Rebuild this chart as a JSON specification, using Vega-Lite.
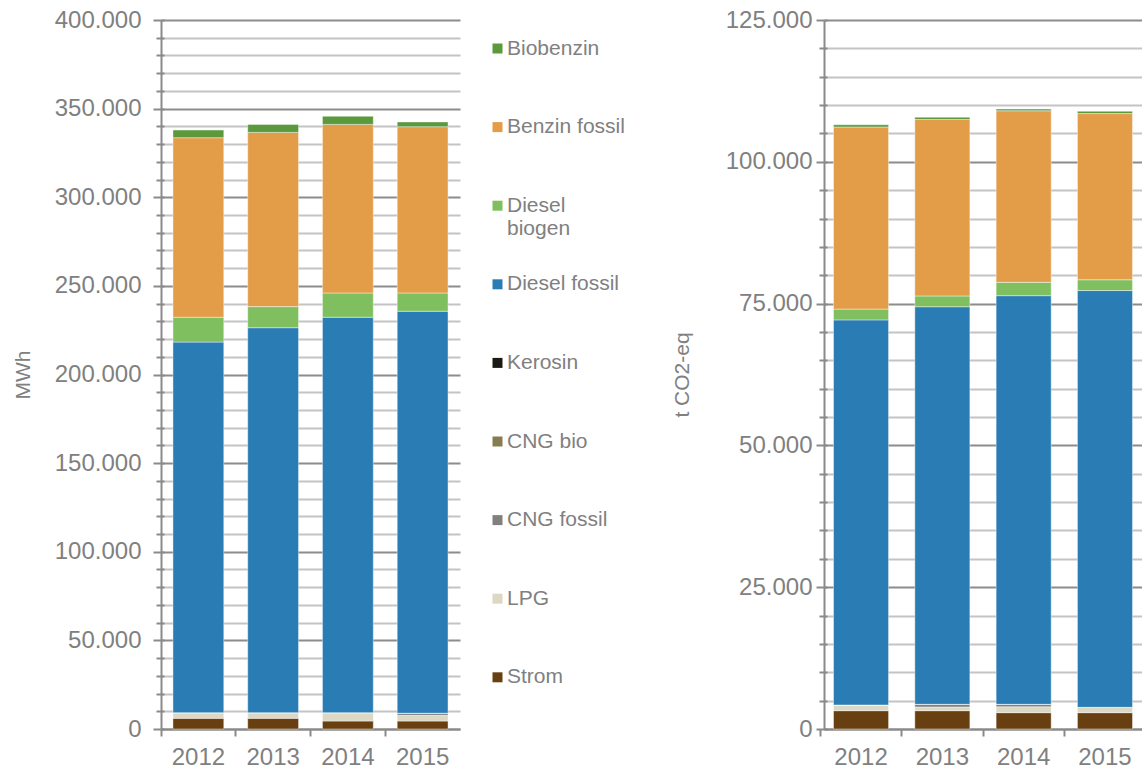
{
  "$schema": "https://vega.github.io/schema/vega-lite/v6.json",
  "padding": {"left": 12, "top": 8, "right": 0, "bottom": 0},
  "background": "#ffffff",
  "datasets": {
    "mwh": [
      {"year": "2012", "fuel": "Strom", "value": 6000},
      {"year": "2012", "fuel": "LPG", "value": 3200},
      {"year": "2012", "fuel": "CNG fossil", "value": 0},
      {"year": "2012", "fuel": "CNG bio", "value": 0},
      {"year": "2012", "fuel": "Kerosin", "value": 0},
      {"year": "2012", "fuel": "Diesel fossil", "value": 209100},
      {"year": "2012", "fuel": "Diesel biogen", "value": 14000},
      {"year": "2012", "fuel": "Benzin fossil", "value": 101300},
      {"year": "2012", "fuel": "Biobenzin", "value": 4300},
      {"year": "2013", "fuel": "Strom", "value": 6000},
      {"year": "2013", "fuel": "LPG", "value": 3200},
      {"year": "2013", "fuel": "CNG fossil", "value": 0},
      {"year": "2013", "fuel": "CNG bio", "value": 0},
      {"year": "2013", "fuel": "Kerosin", "value": 0},
      {"year": "2013", "fuel": "Diesel fossil", "value": 217200},
      {"year": "2013", "fuel": "Diesel biogen", "value": 11900},
      {"year": "2013", "fuel": "Benzin fossil", "value": 98300},
      {"year": "2013", "fuel": "Biobenzin", "value": 4500},
      {"year": "2014", "fuel": "Strom", "value": 4500},
      {"year": "2014", "fuel": "LPG", "value": 4700},
      {"year": "2014", "fuel": "CNG fossil", "value": 0},
      {"year": "2014", "fuel": "CNG bio", "value": 0},
      {"year": "2014", "fuel": "Kerosin", "value": 0},
      {"year": "2014", "fuel": "Diesel fossil", "value": 223100},
      {"year": "2014", "fuel": "Diesel biogen", "value": 13700},
      {"year": "2014", "fuel": "Benzin fossil", "value": 95100},
      {"year": "2014", "fuel": "Biobenzin", "value": 4600},
      {"year": "2015", "fuel": "Strom", "value": 4500},
      {"year": "2015", "fuel": "LPG", "value": 3200},
      {"year": "2015", "fuel": "CNG fossil", "value": 1200},
      {"year": "2015", "fuel": "CNG bio", "value": 0},
      {"year": "2015", "fuel": "Kerosin", "value": 0},
      {"year": "2015", "fuel": "Diesel fossil", "value": 226800},
      {"year": "2015", "fuel": "Diesel biogen", "value": 10300},
      {"year": "2015", "fuel": "Benzin fossil", "value": 93800},
      {"year": "2015", "fuel": "Biobenzin", "value": 2700}
    ],
    "co2": [
      {"year": "2012", "fuel": "Strom", "value": 3230},
      {"year": "2012", "fuel": "LPG", "value": 1000},
      {"year": "2012", "fuel": "CNG fossil", "value": 0},
      {"year": "2012", "fuel": "CNG bio", "value": 0},
      {"year": "2012", "fuel": "Kerosin", "value": 0},
      {"year": "2012", "fuel": "Diesel fossil", "value": 67900},
      {"year": "2012", "fuel": "Diesel biogen", "value": 1900},
      {"year": "2012", "fuel": "Benzin fossil", "value": 32100},
      {"year": "2012", "fuel": "Biobenzin", "value": 400},
      {"year": "2013", "fuel": "Strom", "value": 3230},
      {"year": "2013", "fuel": "LPG", "value": 650},
      {"year": "2013", "fuel": "CNG fossil", "value": 470},
      {"year": "2013", "fuel": "CNG bio", "value": 0},
      {"year": "2013", "fuel": "Kerosin", "value": 0},
      {"year": "2013", "fuel": "Diesel fossil", "value": 70100},
      {"year": "2013", "fuel": "Diesel biogen", "value": 1900},
      {"year": "2013", "fuel": "Benzin fossil", "value": 31100},
      {"year": "2013", "fuel": "Biobenzin", "value": 400},
      {"year": "2014", "fuel": "Strom", "value": 2880},
      {"year": "2014", "fuel": "LPG", "value": 1050},
      {"year": "2014", "fuel": "CNG fossil", "value": 420},
      {"year": "2014", "fuel": "CNG bio", "value": 0},
      {"year": "2014", "fuel": "Kerosin", "value": 0},
      {"year": "2014", "fuel": "Diesel fossil", "value": 72050},
      {"year": "2014", "fuel": "Diesel biogen", "value": 2350},
      {"year": "2014", "fuel": "Benzin fossil", "value": 30250},
      {"year": "2014", "fuel": "Biobenzin", "value": 300},
      {"year": "2015", "fuel": "Strom", "value": 2880},
      {"year": "2015", "fuel": "LPG", "value": 940},
      {"year": "2015", "fuel": "CNG fossil", "value": 0},
      {"year": "2015", "fuel": "CNG bio", "value": 0},
      {"year": "2015", "fuel": "Kerosin", "value": 0},
      {"year": "2015", "fuel": "Diesel fossil", "value": 73480},
      {"year": "2015", "fuel": "Diesel biogen", "value": 1900},
      {"year": "2015", "fuel": "Benzin fossil", "value": 29300},
      {"year": "2015", "fuel": "Biobenzin", "value": 400}
    ]
  },
  "hconcat": [
    {
      "width": 299,
      "height": 709,
      "data": {"name": "mwh"},
      "transform": [
        {"calculate": "indexof(['Strom','LPG','CNG fossil','CNG bio','Kerosin','Diesel fossil','Diesel biogen','Benzin fossil','Biobenzin'], datum.fuel)", "as": "ord"}
      ],
      "layer": [
        {
          "mark": {"type": "bar", "stroke": "#ffffff", "strokeWidth": 0.6, "strokeOpacity": 0.7},
          "encoding": {
            "x": {
              "field": "year", "type": "nominal",
              "scale": {"paddingInner": 0.32, "paddingOuter": 0.16},
              "axis": {"title": null, "labelAngle": 0, "bandPosition": -0.235, "tickSize": 7, "labelPadding": 9}
            },
            "y": {
              "field": "value", "type": "quantitative",
              "scale": {"domain": [0, 400000], "nice": false},
              "axis": {
                "title": "MWh", "titlePadding": 21,
                "values": [0,10000,20000,30000,40000,50000,60000,70000,80000,90000,100000,110000,120000,130000,140000,150000,160000,170000,180000,190000,200000,210000,220000,230000,240000,250000,260000,270000,280000,290000,300000,310000,320000,330000,340000,350000,360000,370000,380000,390000,400000],
                "labelExpr": "datum.value % 50000 === 0 ? replace(format(datum.value, ','), ',', '.') : ''",
                "grid": true,
                "gridColor": {"condition": {"test": "datum.value % 50000 === 0", "value": "#8c8c8c"}, "value": "#c4c4c4"},
                "tickSize": {"condition": {"test": "datum.value % 50000 === 0", "value": 8}, "value": 5},
                "labelPadding": 12
              }
            },
            "color": {
              "field": "fuel", "type": "nominal",
              "scale": {
                "domain": ["Biobenzin","Benzin fossil","Diesel biogen","Diesel fossil","Kerosin","CNG bio","CNG fossil","LPG","Strom"],
                "range": ["#5a9a3d","#e39c48","#7fbf5f","#2a7db4","#1a1a14","#857c50","#808080","#ddd8c4","#673f10"]
              },
              "legend": {
                "orient": "none", "legendX": 326, "legendY": 18, "title": null,
                "symbolType": "square", "symbolSize": 100, "symbolStrokeWidth": 0,
                "labelFont": "Liberation Sans", "labelFontSize": 21, "labelColor": "#808080",
                "labelOffset": -1, "rowPadding": 33.6,
                "labelExpr": "datum.label == 'Diesel biogen' ? ['Diesel', 'biogen'] : [datum.label, '']"
              }
            },
            "order": {"field": "ord", "type": "quantitative"}
          }
        },
        {
          "mark": {"type": "rule", "opacity": 0},
          "encoding": {
            "y": {
              "datum": 0, "type": "quantitative",
              "axis": {
                "orient": "right", "offset": -299, "title": null, "labels": false, "domain": false, "grid": false,
                "tickSize": 3,
                "values": [0,10000,20000,30000,40000,50000,60000,70000,80000,90000,100000,110000,120000,130000,140000,150000,160000,170000,180000,190000,200000,210000,220000,230000,240000,250000,260000,270000,280000,290000,300000,310000,320000,330000,340000,350000,360000,370000,380000,390000,400000]
              }
            }
          }
        }
      ],
      "resolve": {"axis": {"y": "independent"}}
    },
    {
      "width": 318,
      "height": 709,
      "data": {"name": "co2"},
      "transform": [
        {"calculate": "indexof(['Strom','LPG','CNG fossil','CNG bio','Kerosin','Diesel fossil','Diesel biogen','Benzin fossil','Biobenzin'], datum.fuel)", "as": "ord"}
      ],
      "layer": [
        {
          "mark": {"type": "bar", "stroke": "#ffffff", "strokeWidth": 0.6, "strokeOpacity": 0.7},
          "encoding": {
            "x": {
              "field": "year", "type": "nominal",
              "scale": {"paddingInner": 0.323, "paddingOuter": 0.117},
              "axis": {"title": null, "labelAngle": 0, "bandPosition": -0.2385, "tickSize": 7, "labelPadding": 9}
            },
            "y": {
              "field": "value", "type": "quantitative",
              "scale": {"domain": [0, 125000], "nice": false},
              "axis": {
                "title": "t CO2-eq", "titlePadding": 33,
                "values": [0,5000,10000,15000,20000,25000,30000,35000,40000,45000,50000,55000,60000,65000,70000,75000,80000,85000,90000,95000,100000,105000,110000,115000,120000,125000],
                "labelExpr": "datum.value % 25000 === 0 ? replace(format(datum.value, ','), ',', '.') : ''",
                "grid": true,
                "gridColor": {"condition": {"test": "datum.value % 25000 === 0", "value": "#8c8c8c"}, "value": "#c4c4c4"},
                "tickSize": {"condition": {"test": "datum.value % 25000 === 0", "value": 8}, "value": 5},
                "labelPadding": 4
              }
            },
            "color": {"field": "fuel", "type": "nominal"},
            "order": {"field": "ord", "type": "quantitative"}
          }
        },
        {
          "mark": {"type": "rule", "opacity": 0},
          "encoding": {
            "y": {
              "datum": 0, "type": "quantitative",
              "axis": {
                "orient": "right", "offset": -318, "title": null, "labels": false, "domain": false, "grid": false,
                "tickSize": 3,
                "values": [0,5000,10000,15000,20000,25000,30000,35000,40000,45000,50000,55000,60000,65000,70000,75000,80000,85000,90000,95000,100000,105000,110000,115000,120000,125000]
              }
            }
          }
        }
      ],
      "resolve": {"axis": {"y": "independent"}}
    }
  ],
  "spacing": 211,
  "config": {
    "view": {"stroke": null},
    "axis": {
      "labelFont": "Liberation Sans", "labelFontSize": 24, "labelColor": "#808080",
      "titleFont": "Liberation Sans", "titleFontSize": 21, "titleFontWeight": "normal", "titleColor": "#808080",
      "domainColor": "#8a8a8a", "domainWidth": 2, "tickColor": "#8a8a8a", "tickWidth": 2,
      "gridWidth": 2, "labelOverlap": false
    }
  }
}
